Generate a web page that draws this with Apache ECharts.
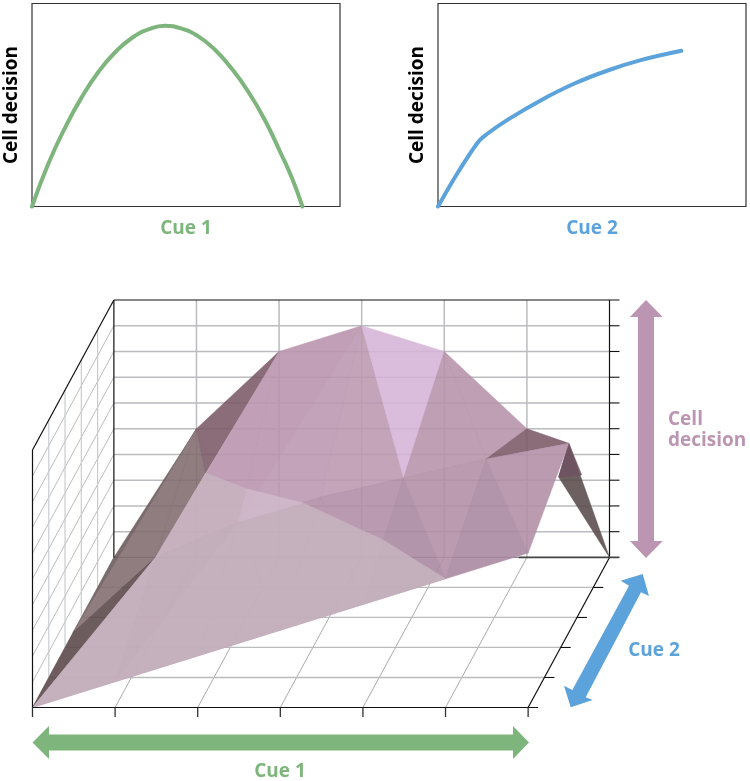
<!DOCTYPE html>
<html>
<head>
<meta charset="utf-8">
<style>html,body{margin:0;padding:0;background:#fff}#c{width:750px;height:781px}</style>
<script src="https://cdn.jsdelivr.net/npm/echarts@6/dist/echarts.min.js"></script>
</head>
<body>
<div id="c"></div>
<script>
// ---------- data ----------
var cue1X = [0,5.4,10.8,16.2,21.6,27,32.4,37.8,43.2,48.6,54,59.4,64.8,70.2,75.6,81,84.4,87.8];
var cue1Y = [0,21.4,39,54,66.4,76,83,87.2,89,87.6,83.8,77.2,68,56.6,42.6,25.5,14,0];
var cue2X = [0,6.6,13.1,15.8,22.8,33.6,44.5,55.1,66.1,79];
var cue2Y = [0,17.1,31.9,35.6,42.9,52.5,60.7,67,72.2,76.7];

var c1Ticks = [0,1,2,3,4,5,6];
var c2Ticks = [0,1,2,3,4,5];
var zTicks  = [0,1,2,3,4,5,6,7,8,9,10];

// surface rows: decision value at each Cue 1 step, for three Cue 2 levels
var surfaceC2 = {f:0, m:2.5, b:5};
var frontRow = [0,1,2,3,4,5,6];
var midRow   = [0,2.93,4.29,5.26,6,6.74,7.35];
var backRow  = [0,5,8,9,8,5,0];

// fold points on the surface: [cue1, cue2, decision]
var foldE = [1.85,1.25,7.65];
var foldS = [2.35,1.25,7.03];
var foldQ = [3.03,1.25,6.49];
var foldR = [4.0,1.25,5.05];
var foldL = [5.63,3.75,4.58];
var foldU = [5.91,3.75,4.66];

// facets: vertex names and resulting colour
var rearFacets = [
  [['L','b6','m6'],'#584A4A'],
  [['L','U','m6'],'#6E5260'],
  [['m0','b0','b1'],'#685658'],
  [['m0','b1','m1'],'#806B6E'],
  [['b1','E','m1'],'#806B6E'],
  [['b1','b2','E'],'#7B5866'],
  [['m1','b2','m2'],'#B893AD'],
  [['b2','b3','m2'],'#B893AD'],
  [['b3','m2','m3'],'#BA96AF'],
  [['b3','m3','m4'],'#BB97AF'],
  [['b3','b4','m4'],'#D5B4D7'],
  [['b4','m5','m4'],'#B692A9'],
  [['b4','b5','m5'],'#B692A9'],
  [['b5','m6','m5'],'#7B5866']
];
var frontFacets = [
  [['f0','m0','m1'],'#594547'],
  [['f0','f1','m1'],'#AF8CA5'],
  [['f1','m1','m2'],'#A5809D'],
  [['f1','f2','m2'],'#AF8CA5'],
  [['f2','f3','m2'],'#AF8CA5'],
  [['f3','m2','m3'],'#AF8CA5'],
  [['f3','f4','m3'],'#AF8CA5'],
  [['f4','m3','m4'],'#AF8CA5'],
  [['f4','f5','m4'],'#A7869E'],
  [['f5','m4','m5'],'#B18DA4'],
  [['f5','f6','m5'],'#A7869E'],
  [['f6','m5','m6'],'#B18DA4']
];
var paleVeil = ['E','S','Q','R','f5','f4','f3','f2','f1','f0','m1'];
var paleGlow = ['m2','S','Q'];

// ---------- projection of (cue1, cue2, decision) into the hidden grid ----------
var shearX = 0.197, shearY = 1.166;
function project(p){ return [p[0] + p[1]*shearX, p[2] + p[1]*shearY]; }
function vertex(name){
  var folds = {E:foldE,S:foldS,Q:foldQ,R:foldR,L:foldL,U:foldU};
  if (folds[name]) return folds[name];
  var rows = {f:frontRow,m:midRow,b:backRow};
  var k = name[0], i = +name.slice(1);
  return [i, surfaceC2[k], rows[k][i]];
}

function polygonSeries(name, polys, z, alpha){
  return {
    type:'custom', name:name, xAxisIndex:2, yAxisIndex:2, z:z, silent:true, clip:false,
    data: polys.map(function(p){ return project(vertex(p[0][0])); }),
    renderItem:function(params, api){
      var p = polys[params.dataIndex];
      return {type:'polygon', shape:{points:p[0].map(function(n){ return api.coord(project(vertex(n))); })},
              style:{fill:p[1], opacity:alpha, stroke:p[1], lineWidth:0.5, lineJoin:'round'}};
    }
  };
}
function segmentSeries(name, segs, color, width, z){
  return {
    type:'custom', name:name, xAxisIndex:2, yAxisIndex:2, z:z, silent:true, clip:false,
    data: segs.map(function(s){ return project(s[0]); }),
    renderItem:function(params, api){
      var s = segs[params.dataIndex], a = api.coord(project(s[0])), b = api.coord(project(s[1]));
      return {type:'line', shape:{x1:a[0],y1:a[1],x2:b[0],y2:b[1]}, style:{stroke:color, lineWidth:width}};
    }
  };
}

// ---------- wall and floor lines ----------
var backH=[], backV=[], wallDiag=[], wallV=[], floorDiag=[], floorH=[], rightTicks=[], frontTicks=[];
var innerZ = zTicks.slice(1,-1), innerC2 = c2Ticks.slice(1,-1);
innerZ.forEach(function(z){
  backH.push([[0,5,z],[6,5,z]]);
  rightTicks.push([[6,5,z],[6.121,5,z]]);
  wallDiag.push([[0,0,z],[0,5,z]]);
});
wallDiag.push([[0,0,0],[0,5,0]]);
c1Ticks.slice(1,-1).forEach(function(c){ backV.push([[c,5,0],[c,5,10]]); });
c1Ticks.slice(1,-1).forEach(function(c){ floorDiag.push([[c,0,0],[c,5,0]]); });
innerC2.forEach(function(c){
  wallV.push([[0,c,0],[0,c,10]]);
  floorH.push([[0,c,0],[6,c,0]]);
  rightTicks.push([[6,c,0],[6.121,c,0]]);
});
c1Ticks.forEach(function(c){ frontTicks.push([[c,0,0],[c,0,-0.37]]); });

var blackFrame = [
  [[0,5,10],[6.121,5,10]], [[6,5,0],[6,5,10]], [[0,0,0],[0,0,10]], [[0,0,10],[0,5,10]], [[0,5,0],[0,5,10]],
  [[0,0,0],[6.121,0,0]], [[6,0,0],[6,5,0]]
];

function arrowPoly(pts,fill){ return {type:'polygon', silent:true, z:20, shape:{points:pts}, style:{fill:fill}}; }
var FONT = '"Open Sans", sans-serif';
function label(text,x,y,color,align){
  return {type:'text', silent:true, z:20, x:x, y:y, style:{text:text, fill:color, font:'700 19px '+FONT, align:align||'center', verticalAlign:'middle'}};
}
var GREEN='#7DB57C', BLUE='#5CA3DB', PINK='#BB95B2';

var chart = echarts.init(document.getElementById('c'), null, {renderer:'canvas'});
function topX(name,color){
  return {type:'value', gridIndex:0, min:0, max:100, axisLine:{show:false}, axisTick:{show:false}, axisLabel:{show:false}, splitLine:{show:false},
    name:name, nameLocation:'middle', nameGap:13, nameTextStyle:{color:color, fontFamily:'Open Sans', fontWeight:700, fontSize:19}};
}
function topY(){
  return {type:'value', gridIndex:0, min:0, max:100, axisLine:{show:false}, axisTick:{show:false}, axisLabel:{show:false}, splitLine:{show:false},
    name:'Cell decision', nameLocation:'middle', nameGap:10.5, nameRotate:90, nameTextStyle:{color:'#000', fontFamily:'Open Sans', fontWeight:700, fontSize:19}};
}
var x0=topX('Cue 1',GREEN), x1=topX('Cue 2',BLUE); x1.gridIndex=1;
var y0=topY(), y1=topY(); y1.gridIndex=1;
function zipXY(a,b){ return a.map(function(v,i){ return [v,b[i]]; }); }

chart.setOption({
  animation:false,
  backgroundColor:'#fff',
  grid:[
    {left:32, top:3.5, width:308, height:203, outerBoundsMode:'none', show:true, borderColor:'#333', borderWidth:1.2, backgroundColor:'transparent'},
    {left:438, top:3.5, width:308, height:203, outerBoundsMode:'none', show:true, borderColor:'#333', borderWidth:1.2, backgroundColor:'transparent'},
    {left:32.5, top:300, width:577, height:407.5, outerBoundsMode:'none'}
  ],
  xAxis:[x0,x1,{type:'value', gridIndex:2, show:false, min:0, max:6.985}],
  yAxis:[y0,y1,{type:'value', gridIndex:2, show:false, min:0, max:15.83}],
  series:[
    {type:'line', name:'Cue 1', xAxisIndex:0, yAxisIndex:0, data:zipXY(cue1X,cue1Y), smooth:0.5, showSymbol:false, clip:false,
      lineStyle:{color:GREEN,width:4,cap:'round'}},
    {type:'line', name:'Cue 2', xAxisIndex:1, yAxisIndex:1, data:zipXY(cue2X,cue2Y), smooth:0.35, showSymbol:false, clip:false,
      lineStyle:{color:BLUE,width:4,cap:'round'}},
    segmentSeries('wall diagonals',wallDiag,'#B4B4B4',0.9,1),
    segmentSeries('wall verticals',wallV,'#C8CCD0',1.2,1),
    segmentSeries('back horizontals',backH,'#BBBBC0',1.5,1),
    segmentSeries('back verticals',backV,'#BBBBC0',1.5,1),
    segmentSeries('floor diagonals',floorDiag,'#ABABAB',1,1),
    segmentSeries('floor horizontals',floorH,'#BBBBBB',1.3,1),
    segmentSeries('back floor',[[[0,5,0],[4.9,5,0]]],'#8A8A8A',1.3,1),
    polygonSeries('rear surface',rearFacets,2,0.88),
    polygonSeries('front surface',frontFacets,3,0.88),
    polygonSeries('pale veil',[[paleVeil,'#C8B5C1']],4,0.8),
    polygonSeries('pale glow',[[paleGlow,'#D6BDD2']],5,0.45),
    segmentSeries('frame',blackFrame,'#111',1.2,6),
    segmentSeries('right ticks',rightTicks,'#111',1.1,6),
    segmentSeries('front ticks',frontTicks,'#333',1.3,6),
    segmentSeries('back floor edge',[[[4.9,5,0],[6.121,5,0]]],'#444',1.6,6)
  ],
  graphic:[
    arrowPoly([[32.5,742.5],[49,726],[49,734.5],[513,734.5],[513,726],[529,742.5],[513,759],[513,750.5],[49,750.5],[49,759]],GREEN),
    arrowPoly([[646,300],[662.7,317],[654,317],[654,541],[662.7,541],[646,558],[630,541],[638,541],[638,317],[630,317]],PINK),
    arrowPoly([[642.7,574],[649,596],[641,592.3],[585.7,697.3],[592.7,700],[570.7,707.3],[564,685.7],[572.3,690],[629,585.7],[620.7,580.7]],BLUE),
    label('Cue 1',280,772,GREEN),
    label('Cue 2',654,651,BLUE),
    label('Cell',668,420,PINK,'left'),
    label('decision',668,441,PINK,'left')
  ]
});
</script>
</body>
</html>
